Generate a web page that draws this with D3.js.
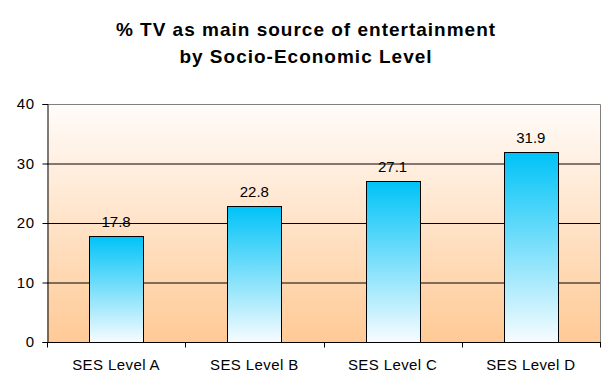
<!DOCTYPE html>
<html><head><meta charset="utf-8">
<script src="https://cdn.jsdelivr.net/npm/d3@7"></script>
<style>body{margin:0;background:#fff;}svg{display:block;font-family:Arial,"Liberation Sans",sans-serif;}</style>
</head><body>
<svg id="c" width="610" height="391"></svg>
<script>
const categories = ["SES Level A","SES Level B","SES Level C","SES Level D"];
const values = [17.8, 22.8, 27.1, 31.9];
const yTicks = [0,10,20,30,40];
const titleLines = ["% TV as main source of entertainment","by Socio-Economic Level"];

const svg = d3.select("#c");
const m = {l:47, r:600, t:104, b:342};
const x = d3.scaleBand().domain(categories).range([m.l, m.r]).paddingInner(0.61).paddingOuter(0.305);
const y = d3.scaleLinear().domain([0,40]).range([m.b, m.t]);

const defs = svg.append("defs");
const bg = defs.append("linearGradient").attr("id","bg").attr("x1",0).attr("y1",0).attr("x2",0).attr("y2",1);
bg.append("stop").attr("offset","0%").attr("stop-color","#fffcfa");
bg.append("stop").attr("offset","100%").attr("stop-color","#ffca96");
const bar = defs.append("linearGradient").attr("id","bar").attr("x1",0).attr("y1",0).attr("x2",0).attr("y2",1);
bar.append("stop").attr("offset","0%").attr("stop-color","#00c3f7");
bar.append("stop").attr("offset","100%").attr("stop-color","#f8fcff");

svg.append("rect").attr("x",m.l).attr("y",m.t).attr("width",m.r-m.l).attr("height",m.b-m.t).attr("fill","url(#bg)");

// gridlines
svg.append("g").selectAll("line").data(yTicks.filter(d=>d>0 && d<40)).join("line")
  .attr("x1",m.l).attr("x2",m.r).attr("y1",d=>y(d)+0.5).attr("y2",d=>y(d)+0.5)
  .attr("stroke","#000").attr("stroke-width",1);
// border top/right gray
svg.append("path").attr("d",`M${m.l},${m.t+0.5}H${m.r+0.5}V${m.b}`).attr("fill","none").attr("stroke","#808080");

// bars
svg.append("g").selectAll("rect").data(values).join("rect")
  .attr("x",(d,i)=>Math.round(x(categories[i]))+0.5).attr("y",d=>Math.round(y(d))+0.5)
  .attr("width",Math.round(x.bandwidth())).attr("height",d=>m.b-Math.round(y(d)))
  .attr("fill","url(#bar)").attr("stroke","#000").attr("stroke-width",1);

// value labels
svg.append("g").selectAll("text").data(values).join("text")
  .attr("x",(d,i)=>x(categories[i])+x.bandwidth()/2).attr("y",d=>y(d)-9)
  .attr("text-anchor","middle").attr("font-size",15).attr("fill","#000").text(d=>d.toFixed(1));

// y axis
const ya = svg.append("g").attr("transform",`translate(${m.l+0.5},0)`)
  .call(d3.axisLeft(y).tickValues(yTicks).tickSize(5).tickPadding(8));
ya.select(".domain").attr("stroke","#000");
ya.selectAll("text").attr("font-size",15).attr("letter-spacing","0.5px").attr("font-family","Arial, 'Liberation Sans', sans-serif").attr("fill","#000");

// x axis
const step = x.step();
const xa = svg.append("g").attr("transform",`translate(0,${m.b+0.5})`);
xa.append("line").attr("x1",m.l).attr("x2",m.r+1).attr("stroke","#000");
xa.selectAll("line.t").data(d3.range(5)).join("line").attr("class","t")
  .attr("x1",i=>Math.round(m.l+i*step)+0.5).attr("x2",i=>Math.round(m.l+i*step)+0.5).attr("y1",0).attr("y2",5).attr("stroke","#000");
xa.selectAll("text").data(categories).join("text")
  .attr("x",d=>x(d)+x.bandwidth()/2).attr("y",27).attr("text-anchor","middle")
  .attr("font-size",15).attr("letter-spacing","0.4px").attr("fill","#000").text(d=>d);

// title
svg.append("g").selectAll("text").data(titleLines).join("text")
  .attr("x",306).attr("y",(d,i)=>36+i*27).attr("text-anchor","middle")
  .attr("font-size",19).attr("letter-spacing","1px").attr("font-weight","bold").attr("fill","#000").text(d=>d);
</script>
</body></html>
